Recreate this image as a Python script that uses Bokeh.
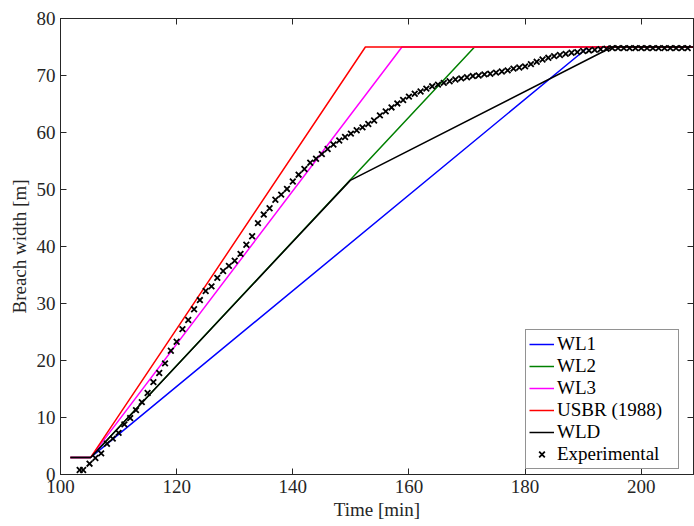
from bokeh.plotting import figure
from bokeh.models import LinearAxis, Legend, LegendItem, FixedTicker, Range1d
from bokeh.embed import file_html
from bokeh.resources import INLINE

# ---- data ----
x_ticks = [100, 120, 140, 160, 180, 200]
y_ticks = [0, 10, 20, 30, 40, 50, 60, 70, 80]

wl1_time = [101.7, 105.2, 190.9, 209.0]
wl1_width = [3.0, 3.0, 75.0, 75.0]
wl2_time = [101.7, 105.2, 171.3, 209.0]
wl2_width = [3.0, 3.0, 75.0, 75.0]
wl3_time = [101.7, 105.2, 158.8, 209.0]
wl3_width = [3.0, 3.0, 75.0, 75.0]
usbr_time = [101.7, 105.2, 152.5, 209.0]
usbr_width = [3.0, 3.0, 75.0, 75.0]
wld_time = [101.7, 105.2, 149.9, 195.0, 209.0]
wld_width = [3.0, 3.0, 51.6, 75.0, 75.0]

exp_time = [103.3, 103.9,
            105, 106, 107, 108, 109, 110, 111, 112, 113, 114, 115, 116, 117, 118, 119, 120,
            121, 122, 123, 124, 125, 126, 127, 128, 129, 130, 131, 132, 133, 134, 135, 136,
            137, 138, 139, 140, 141, 142, 143, 144, 145, 146, 147, 148, 149, 150, 151, 152,
            153, 154, 155, 156, 157, 158, 159, 160, 161, 162, 163, 164, 165, 166, 167, 168,
            169, 170, 171, 172, 173, 174, 175, 176, 177, 178, 179, 180, 181, 182, 183, 184,
            185, 186, 187, 188, 189, 190, 191, 192, 193, 194, 195, 196, 197, 198, 199, 200,
            201, 202, 203, 204, 205, 206, 207, 208]
exp_width = [0.8, 0.8,
             1.9, 2.9, 3.7, 5.4, 6.3, 7.3, 8.8, 9.9, 11.3, 12.7, 14.3, 16.2, 17.8, 19.5, 21.7, 23.3,
             25.5, 27.1, 29.0, 30.6, 32.2, 33.0, 34.5, 35.7, 36.6, 37.5, 38.7, 40.3, 41.8, 44.1, 45.6, 46.7,
             48.2, 49.1, 50.1, 51.4, 52.6, 53.6, 54.7, 55.4, 56.2, 57.1, 57.9, 58.6, 59.2, 59.8, 60.4, 60.9,
             61.5, 62.1, 63.0, 63.7, 64.4, 65.1, 65.7, 66.3, 66.8, 67.2, 67.7, 68.1, 68.4, 68.7, 69.0, 69.3,
             69.5, 69.7, 69.9, 70.0, 70.2, 70.3, 70.5, 70.7, 70.9, 71.2, 71.4, 71.6, 72.0, 72.4, 72.8, 73.1,
             73.4, 73.6, 73.8, 74.0, 74.1, 74.3, 74.4, 74.5, 74.6, 74.7, 74.8, 74.8, 74.8, 74.8, 74.8, 74.8,
             74.8, 74.8, 74.8, 74.8, 74.8, 74.8, 74.8, 74.8]

FONT = "Liberation Serif"
AX = "#262626"
FS = "19px"

p = figure(width=694, height=526, x_range=Range1d(100, 209), y_range=Range1d(0, 80),
           output_backend="svg", toolbar_location=None,
           min_border_left=60, min_border_right=1, min_border_top=18, min_border_bottom=52,
           x_axis_label="Time [min]", y_axis_label="Breach width [m]")
p.grid.visible = False
p.outline_line_color = AX
p.background_fill_color = "white"
p.border_fill_color = "white"

for ax, ticks in ((p.xaxis[0], x_ticks), (p.yaxis[0], y_ticks)):
    ax.ticker = FixedTicker(ticks=ticks)
    ax.axis_line_color = AX
    ax.major_tick_line_color = AX
    ax.major_tick_in = 6
    ax.major_tick_out = 0
    ax.minor_tick_line_color = None
    ax.major_label_text_font = FONT
    ax.major_label_text_font_size = FS
    ax.major_label_text_color = AX
    ax.axis_label_text_font = FONT
    ax.axis_label_text_font_size = FS
    ax.axis_label_text_font_style = "normal"
    ax.axis_label_text_color = AX
p.xaxis[0].major_label_standoff = 5
p.xaxis[0].axis_label_standoff = 3
p.yaxis[0].major_label_standoff = 5
p.yaxis[0].axis_label_standoff = 4

top_ax = LinearAxis(ticker=FixedTicker(ticks=x_ticks), major_label_text_font_size="1px",
                    major_label_text_color=None,
                    major_tick_in=6, major_tick_out=0, minor_tick_line_color=None,
                    axis_line_color=AX, major_tick_line_color=AX, major_label_standoff=0)
right_ax = LinearAxis(ticker=FixedTicker(ticks=y_ticks), major_label_text_font_size="1px",
                      major_label_text_color=None,
                      major_tick_in=6, major_tick_out=0, minor_tick_line_color=None,
                      axis_line_color=AX, major_tick_line_color=AX, major_label_standoff=0)
p.add_layout(top_ax, "above")
p.add_layout(right_ax, "right")

LW = 1.5
r1 = p.line(wl1_time, wl1_width, line_color="#0000ff", line_width=LW)
r2 = p.line(wl2_time, wl2_width, line_color="#008000", line_width=LW)
r3 = p.line(wl3_time, wl3_width, line_color="#ff00ff", line_width=LW)
r4 = p.line(usbr_time, usbr_width, line_color="#ff0000", line_width=LW)
r5 = p.line(wld_time, wld_width, line_color="#000000", line_width=LW)
r6 = p.scatter(exp_time, exp_width, marker="x", size=8, line_color="#000000", line_width=1.8)

legend = Legend(items=[
    LegendItem(label="WL1", renderers=[r1]),
    LegendItem(label="WL2", renderers=[r2]),
    LegendItem(label="WL3", renderers=[r3]),
    LegendItem(label="USBR (1988)", renderers=[r4]),
    LegendItem(label="WLD", renderers=[r5]),
    LegendItem(label="Experimental", renderers=[r6]),
], location=(465, 5))
legend.padding = 3
legend.spacing = 0
legend.margin = 0
legend.glyph_width = 25
legend.glyph_height = 20
legend.label_height = 20
legend.label_standoff = 3
legend.label_width = 118
legend.label_text_font = FONT
legend.label_text_font_size = FS
legend.label_text_color = "#000000"
legend.border_line_color = AX
legend.border_line_width = 1
legend.background_fill_color = "white"
legend.background_fill_alpha = 1.0
p.add_layout(legend, "center")

open("out.html", "w").write(file_html(p, INLINE))
